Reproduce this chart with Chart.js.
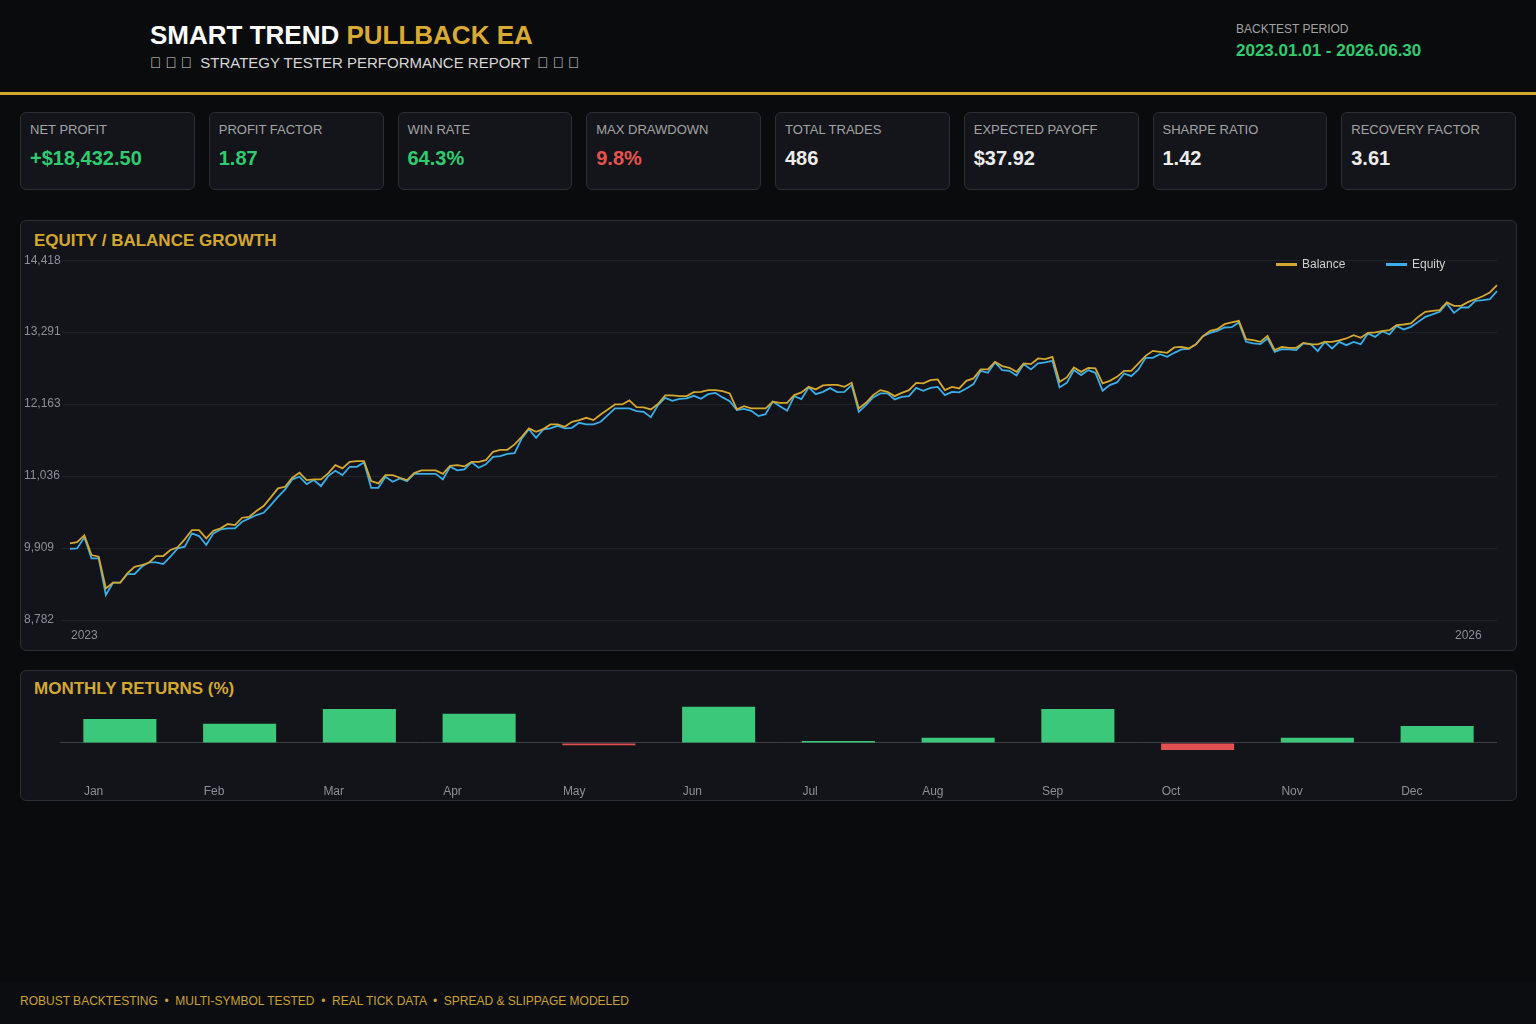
<!DOCTYPE html>
<html>
<head>
<meta charset="utf-8">
<script src="https://cdn.jsdelivr.net/npm/chart.js@4.4.1/dist/chart.umd.min.js"></script>
<style>
  html, body { margin: 0; padding: 0; }
  body { width: 1536px; height: 1024px; background: #0a0b0d; position: relative; overflow: hidden;
         font-family: "Liberation Sans", Arial, Helvetica, sans-serif; color: #e8e8e8; }
  .abs { position: absolute; }
  #header { left: 0; top: 0; width: 1536px; height: 92px; background: #0a0b0d; border-bottom: 3px solid #d4a82f; }
  #title { left: 150px; top: 19px; font-size: 26px; font-weight: bold; color: #ffffff; line-height: 32px; white-space: nowrap; }
  #title span { color: #d9aa31; }
  #subtitle { left: 150px; top: 54px; font-size: 15px; color: #d6d6d6; line-height: 18px; white-space: nowrap; }
  #subtitle .mid { margin: 0 3px 0 4px; }
  #periodLabel { left: 1236px; top: 21px; font-size: 12px; color: #a2a2a2; line-height: 16px; }
  #periodValue { left: 1236px; top: 41px; font-size: 17px; font-weight: bold; color: #2ecc71; line-height: 20px; white-space: nowrap; }
  #kpis { left: 20px; top: 112px; width: 1496px; height: 78px; display: flex; gap: 14px; }
  .card { box-sizing: border-box; flex: 1 1 0; height: 78px; background: #13151a; border: 1px solid #2b2e35; border-radius: 6px; position: relative; }
  .card .lbl { position: absolute; left: 9px; top: 9px; font-size: 13px; line-height: 15px; color: #a3a3a3; white-space: nowrap; }
  .card .val { position: absolute; left: 9px; top: 33px; font-size: 20px; line-height: 24px; font-weight: bold; white-space: nowrap; }
  .panel { box-sizing: border-box; background: #121419; border: 1px solid #2b2e35; border-radius: 6px; }
  #eqPanel { left: 20px; top: 220px; width: 1497px; height: 431px; }
  #moPanel { left: 20px; top: 670px; width: 1497px; height: 131px; }
  .ptitle { font-size: 17px; font-weight: bold; color: #d4a82f; line-height: 20px; white-space: nowrap; }
  #eqTitle { left: 34px; top: 231px; }
  #moTitle { left: 34px; top: 679px; }
  #eqCanvas { left: 24px; top: 250px; }
  #moCanvas { left: 50px; top: 700px; }
  #legend { left: 1276px; top: 257px; font-size: 12px; color: #d0d0d0; line-height: 14px; white-space: nowrap; }
  .li { position: absolute; top: 0; }
  .sw { position: absolute; top: 6px; width: 21px; height: 3px; }
  #footer { left: 0; top: 983px; width: 1536px; height: 41px; background: #0c0d10; }
  #footText { left: 20px; top: 994px; font-size: 12px; line-height: 14px; color: #c9a22e; white-space: nowrap; }
</style>
</head>
<body>
<div id="header" class="abs"></div>
<div id="title" class="abs">SMART TREND <span>PULLBACK EA</span></div>
<div id="subtitle" class="abs">&#xE000; &#xE001; &#xE002; <span class="mid">STRATEGY TESTER PERFORMANCE REPORT</span> &#xE002; &#xE001; &#xE000;</div>
<div id="periodLabel" class="abs">BACKTEST PERIOD</div>
<div id="periodValue" class="abs">2023.01.01 - 2026.06.30</div>

<div id="kpis" class="abs"></div>

<div id="eqPanel" class="abs panel"></div>
<div id="eqTitle" class="abs ptitle">EQUITY / BALANCE GROWTH</div>
<canvas id="eqCanvas" class="abs" width="1477" height="395"></canvas>
<div id="legend" class="abs">
  <div class="li" style="left:0"><div class="sw" style="left:0;background:#d4a82f"></div><span style="position:absolute;left:26px">Balance</span></div>
  <div class="li" style="left:110px"><div class="sw" style="left:0;background:#3aaee8"></div><span style="position:absolute;left:26px">Equity</span></div>
</div>

<div id="moPanel" class="abs panel"></div>
<div id="moTitle" class="abs ptitle">MONTHLY RETURNS (%)</div>
<canvas id="moCanvas" class="abs" width="1460" height="100"></canvas>

<div id="footer" class="abs"></div>
<div id="footText" class="abs">ROBUST BACKTESTING &nbsp;•&nbsp; MULTI-SYMBOL TESTED &nbsp;•&nbsp; REAL TICK DATA &nbsp;•&nbsp; SPREAD &amp; SLIPPAGE MODELED</div>

<script>
// ---------------- DATA ----------------
const kpiLabels = ['NET PROFIT', 'PROFIT FACTOR', 'WIN RATE', 'MAX DRAWDOWN', 'TOTAL TRADES', 'EXPECTED PAYOFF', 'SHARPE RATIO', 'RECOVERY FACTOR'];
const kpiValues = ['+$18,432.50', '1.87', '64.3%', '9.8%', '486', '$37.92', '1.42', '3.61'];
const kpiTones  = ['pos', 'pos', 'pos', 'neg', 'neu', 'neu', 'neu', 'neu'];

const balance = [
  9983, 10003, 10108, 9800, 9773, 9278, 9366, 9366, 9513, 9616,
  9643, 9679, 9784, 9784, 9878, 9920, 10045, 10191, 10191, 10061,
  10180, 10218, 10285, 10269, 10384, 10399, 10488, 10567, 10703, 10844,
  10869, 11010, 11088, 10974, 10985, 10985, 11079, 11209, 11157, 11260,
  11271, 11271, 10958, 10922, 11052, 11052, 11010, 10974, 11083, 11126,
  11126, 11126, 11072, 11198, 11209, 11188, 11260, 11260, 11287, 11417,
  11448, 11448, 11533, 11652, 11783, 11730, 11772, 11846, 11846, 11808,
  11887, 11913, 11949, 11913, 12002, 12081, 12159, 12159, 12222, 12117,
  12112, 12081, 12164, 12300, 12300, 12289, 12289, 12352, 12356, 12383,
  12383, 12367, 12331, 12081, 12132, 12096, 12096, 12096, 12200, 12184,
  12184, 12305, 12347, 12434, 12394, 12456, 12466, 12466, 12434, 12497,
  12096, 12184, 12305, 12383, 12356, 12289, 12340, 12383, 12497, 12488,
  12539, 12550, 12383, 12434, 12409, 12528, 12566, 12707, 12707, 12826,
  12759, 12732, 12669, 12801, 12790, 12879, 12868, 12904, 12513, 12582,
  12738, 12669, 12732, 12723, 12488, 12528, 12591, 12685, 12685, 12801,
  12920, 12998, 12982, 12967, 13051, 13061, 13036, 13098, 13228, 13311,
  13338, 13416, 13443, 13468, 13181, 13166, 13139, 13233, 13009, 13061,
  13045, 13045, 13123, 13098, 13098, 13139, 13139, 13161, 13192, 13244,
  13202, 13280, 13286, 13306, 13322, 13400, 13411, 13427, 13530, 13609,
  13624, 13635, 13756, 13702, 13702, 13765, 13807, 13854, 13912, 14027
];
const equity = [
  9898, 9904, 10077, 9748, 9748, 9173, 9366, 9366, 9502, 9502,
  9616, 9685, 9685, 9659, 9773, 9904, 9930, 10139, 10097, 9956,
  10139, 10202, 10218, 10218, 10321, 10374, 10426, 10462, 10582, 10712,
  10828, 10985, 11026, 10911, 10974, 10880, 11036, 11119, 11052, 11182,
  11182, 11251, 10853, 10853, 11026, 10947, 11000, 10958, 11072, 11072,
  11072, 11072, 10985, 11182, 11126, 11141, 11251, 11166, 11220, 11339,
  11350, 11385, 11396, 11627, 11772, 11636, 11767, 11783, 11824, 11783,
  11793, 11871, 11846, 11846, 11887, 11991, 12096, 12096, 12096, 12054,
  12043, 11960, 12148, 12262, 12215, 12247, 12253, 12294, 12247, 12320,
  12340, 12269, 12211, 12070, 12090, 12059, 11976, 12007, 12206, 12132,
  12059, 12289, 12242, 12425, 12320, 12356, 12414, 12352, 12356, 12461,
  12043, 12148, 12269, 12331, 12331, 12237, 12278, 12289, 12419, 12372,
  12419, 12434, 12305, 12356, 12347, 12409, 12477, 12685, 12654, 12816,
  12696, 12685, 12613, 12790, 12707, 12801, 12816, 12841, 12425, 12497,
  12696, 12618, 12696, 12654, 12372, 12461, 12503, 12644, 12602, 12707,
  12888, 12888, 12946, 12904, 12967, 13020, 13029, 13103, 13228, 13280,
  13311, 13364, 13369, 13443, 13139, 13114, 13103, 13192, 12982, 13025,
  13020, 13009, 13114, 13108, 12993, 13139, 13036, 13139, 13087, 13139,
  13103, 13270, 13217, 13306, 13255, 13389, 13333, 13374, 13452, 13530,
  13568, 13609, 13740, 13593, 13677, 13677, 13781, 13792, 13807, 13933
];
const yTickLabels = ['8,782', '9,909', '11,036', '12,163', '13,291', '14,418'];
const yMin = 8782, yMax = 14418;
const xYearLabels = ['2023', '2026'];
const xYearIndex = [2, 195];

const months = ['Jan', 'Feb', 'Mar', 'Apr', 'May', 'Jun', 'Jul', 'Aug', 'Sep', 'Oct', 'Nov', 'Dec'];
const monthlyReturns = [4.1, 3.3, 5.8, 5.0, -0.4, 6.2, 0.35, 0.9, 5.8, -1.2, 0.9, 2.9];

// ---------------- KPI CARDS ----------------
const toneColor = { pos: '#2ecc71', neg: '#e5534b', neu: '#ececec' };
const kpiWrap = document.getElementById('kpis');
kpiLabels.forEach((l, i) => {
  const c = document.createElement('div');
  c.className = 'card';
  c.innerHTML = '<div class="lbl">' + l + '</div><div class="val" style="color:' + toneColor[kpiTones[i]] + '">' + kpiValues[i] + '</div>';
  kpiWrap.appendChild(c);
});

// ---------------- CHARTS ----------------
Chart.defaults.font.family = '"Liberation Sans", Arial, Helvetica, sans-serif';
Chart.defaults.color = '#8b8f96';

const labels = balance.map((_, i) => i);

new Chart(document.getElementById('eqCanvas'), {
  type: 'line',
  data: {
    labels: labels,
    datasets: [
      { label: 'Balance', data: balance, borderColor: '#d4a82f', borderWidth: 1.8, pointRadius: 0, tension: 0, fill: false },
      { label: 'Equity', data: equity, borderColor: '#3aaee8', borderWidth: 1.8, pointRadius: 0, tension: 0, fill: false }
    ]
  },
  options: {
    responsive: false,
    animation: false,
    devicePixelRatio: 1,
    layout: { padding: { top: 10, right: 4, left: 0, bottom: 0 } },
    plugins: { legend: { display: false }, tooltip: { enabled: false } },
    scales: {
      x: {
        grid: { display: false },
        border: { display: false },
        ticks: {
          autoSkip: false, maxRotation: 0, minRotation: 0, padding: 0,
          font: { size: 12 }, color: '#8b8f96',
          callback: (v, i) => { const k = xYearIndex.indexOf(i); return k >= 0 ? xYearLabels[k] : ''; }
        },
        afterFit: (s) => { s.height = 25; }
      },
      y: {
        min: yMin, max: yMax,
        grid: { color: '#1f2227', lineWidth: 1, tickLength: 8 },
        border: { display: false },
        ticks: {
          count: 6, crossAlign: 'far', font: { size: 12 }, color: '#8b8f96',
          callback: (v, i) => yTickLabels[i]
        },
        afterFit: (s) => { s.width = 46; }
      }
    }
  }
});

new Chart(document.getElementById('moCanvas'), {
  type: 'bar',
  data: {
    labels: months,
    datasets: [{
      data: monthlyReturns,
      backgroundColor: monthlyReturns.map(v => v >= 0 ? '#3cc87b' : '#df5050'),
      borderWidth: 0,
      barPercentage: 0.61,
      categoryPercentage: 1.0
    }]
  },
  options: {
    responsive: false,
    animation: false,
    devicePixelRatio: 1,
    layout: { padding: { top: 5, right: 13, left: 10, bottom: 0 } },
    plugins: { legend: { display: false }, tooltip: { enabled: false } },
    scales: {
      x: {
        grid: { display: false, drawTicks: false },
        border: { display: false },
        ticks: { align: 'start', labelOffset: -36, padding: 9, font: { size: 12 }, color: '#8b8f96', maxRotation: 0 },
        afterFit: (s) => { s.height = 25; }
      },
      y: {
        min: -5.5, max: 6.5,
        grid: { color: (c) => (c.tick && c.tick.value === 0) ? '#3c3f46' : 'rgba(0,0,0,0)', drawTicks: false, lineWidth: 1 },
        border: { display: false },
        ticks: { display: false, stepSize: 0.5 },
        afterFit: (s) => { s.width = 0; }
      }
    }
  }
});
</script>
</body>
</html>
